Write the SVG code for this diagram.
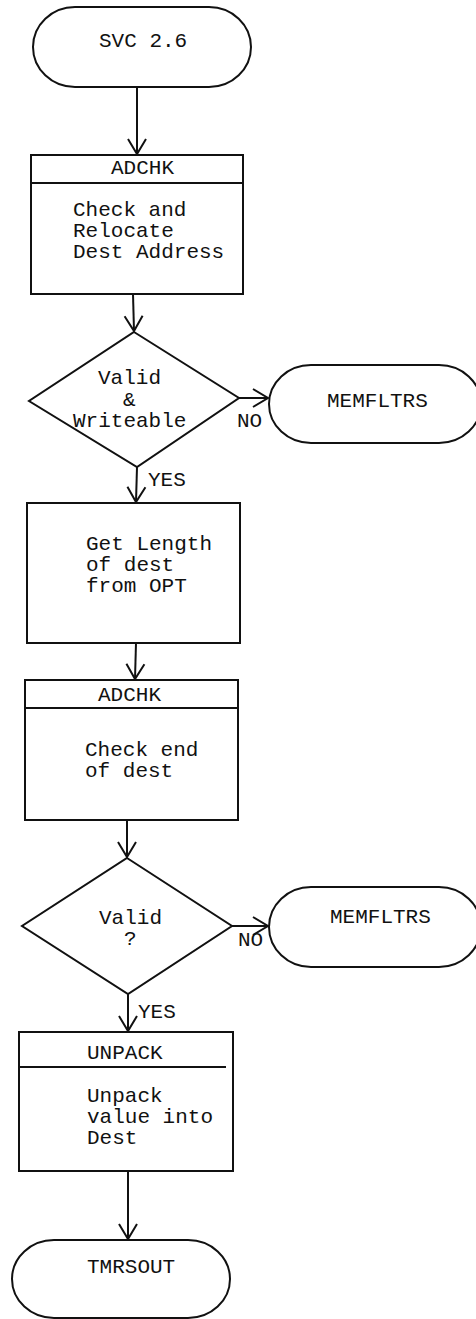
<svg xmlns="http://www.w3.org/2000/svg" width="476" height="1319" viewBox="0 0 476 1319">
<defs>
<style>
.s{fill:#fff;stroke:#111;stroke-width:2}
.l{fill:none;stroke:#111;stroke-width:2}
text{font-family:"Liberation Mono","Courier New",monospace;font-size:21px;fill:#111}
</style>
<marker id="a" markerUnits="userSpaceOnUse" markerWidth="30" markerHeight="30" refX="0" refY="0" viewBox="-20 -15 30 30" orient="auto" overflow="visible">
<path d="M-15,-9 L0,0 L-15,9" fill="none" stroke="#111" stroke-width="2"/>
</marker>
</defs>
<rect width="476" height="1319" fill="#fff"/>
<g id="connectors">
<line class="l" x1="137" y1="87" x2="137" y2="154" marker-end="url(#a)"/>
<line class="l" x1="133" y1="294" x2="134" y2="331" marker-end="url(#a)"/>
<line class="l" x1="239" y1="398" x2="268" y2="398" marker-end="url(#a)"/>
<line class="l" x1="137" y1="467" x2="136" y2="502" marker-end="url(#a)"/>
<line class="l" x1="136" y1="643" x2="135" y2="679" marker-end="url(#a)"/>
<line class="l" x1="127" y1="820" x2="127" y2="857" marker-end="url(#a)"/>
<line class="l" x1="232" y1="926" x2="268" y2="926" marker-end="url(#a)"/>
<line class="l" x1="128" y1="994" x2="128" y2="1031" marker-end="url(#a)"/>
<line class="l" x1="128" y1="1171" x2="128" y2="1239" marker-end="url(#a)"/>
<text x="237" y="427">NO</text>
<text x="148" y="486">YES</text>
<text x="238" y="946">NO</text>
<text x="138" y="1018">YES</text>
</g>
<g id="start">
<rect class="s" x="33" y="7" width="218" height="80" rx="42" ry="40"/>
<text x="99" y="47">SVC 2.6</text>
</g>
<g id="adchk1">
<rect class="s" x="31" y="155" width="212" height="139"/>
<line class="l" x1="31" y1="183" x2="243" y2="183"/>
<text x="111" y="174">ADCHK</text>
<text x="73" y="216">Check and</text>
<text x="73" y="237">Relocate</text>
<text x="73" y="258">Dest Address</text>
</g>
<g id="decision1">
<polygon class="s" points="134,332 239,398 137,467 29,401"/>
<text x="98" y="384">Valid</text>
<text x="123" y="406">&amp;</text>
<text x="73" y="427">Writeable</text>
</g>
<g id="memfltrs1">
<rect class="s" x="269" y="365" width="212" height="78" rx="42" ry="39"/>
<text x="327" y="407">MEMFLTRS</text>
</g>
<g id="getlength">
<rect class="s" x="27" y="503" width="213" height="140"/>
<text x="86" y="550">Get Length</text>
<text x="86" y="571">of dest</text>
<text x="86" y="592">from OPT</text>
</g>
<g id="adchk2">
<rect class="s" x="25" y="680" width="213" height="140"/>
<line class="l" x1="25" y1="708" x2="238" y2="708"/>
<text x="98" y="701">ADCHK</text>
<text x="85" y="756">Check end</text>
<text x="85" y="777">of dest</text>
</g>
<g id="decision2">
<polygon class="s" points="127,858 232,926 128,994 22,926"/>
<text x="99" y="924">Valid</text>
<text x="124" y="945">?</text>
</g>
<g id="memfltrs2">
<rect class="s" x="269" y="887" width="212" height="80" rx="42" ry="40"/>
<text x="330" y="923">MEMFLTRS</text>
</g>
<g id="unpack">
<rect class="s" x="19" y="1032" width="214" height="139"/>
<line class="l" x1="19" y1="1067" x2="226" y2="1067"/>
<text x="87" y="1059">UNPACK</text>
<text x="87" y="1102">Unpack</text>
<text x="87" y="1123">value into</text>
<text x="87" y="1144">Dest</text>
</g>
<g id="tmrsout">
<rect class="s" x="12" y="1240" width="218" height="78" rx="42" ry="39"/>
<text x="87" y="1273">TMRSOUT</text>
</g>
</svg>
